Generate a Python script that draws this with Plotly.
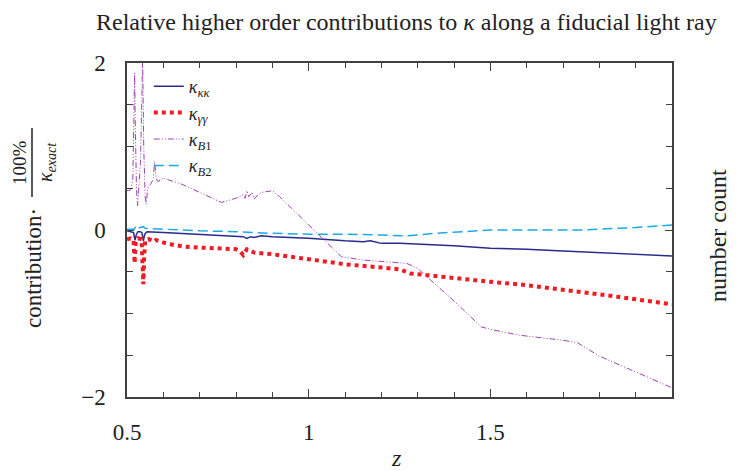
import plotly.graph_objects as go

# kappa_kk (solid navy)
z_kk = [0.5, 0.51, 0.518, 0.522, 0.526, 0.53, 0.536, 0.541, 0.545, 0.549, 0.555, 0.6, 0.7, 0.8,
        0.82, 0.83, 0.84, 0.85, 0.87, 0.9, 1.0, 1.1, 1.15, 1.17, 1.2, 1.25, 1.3, 1.4, 1.5, 1.6,
        1.7, 1.75, 1.8, 1.9, 2.0]
v_kk = [-0.01, -0.02, -0.03, -0.12, -0.05, -0.02, -0.02, -0.03, -0.13, -0.05, -0.02, -0.03, -0.05, -0.07,
        -0.08, -0.10, -0.08, -0.09, -0.07, -0.08, -0.10, -0.13, -0.14, -0.13, -0.16, -0.16, -0.17, -0.19, -0.22, -0.23,
        -0.25, -0.26, -0.27, -0.29, -0.31]

# kappa_gg (red dotted)
z_gg = [0.5, 0.51, 0.518, 0.521, 0.524, 0.53, 0.54, 0.543, 0.545, 0.547, 0.55, 0.56, 0.575, 0.58,
        0.6, 0.63, 0.66, 0.7, 0.75, 0.8, 0.81, 0.82, 0.83, 0.85, 0.9, 0.95, 1.0, 1.1, 1.2, 1.25,
        1.28, 1.3, 1.4, 1.5, 1.6, 1.7, 1.75, 1.8, 1.9, 2.0]
v_gg = [-0.11, -0.10, -0.12, -0.40, -0.14, -0.10, -0.11, -0.45, -0.65, -0.35, -0.12, -0.11, -0.14, -0.12,
        -0.15, -0.18, -0.20, -0.21, -0.22, -0.23, -0.25, -0.30, -0.23, -0.27, -0.29, -0.32, -0.35, -0.41, -0.45, -0.47,
        -0.52, -0.53, -0.57, -0.62, -0.66, -0.71, -0.74, -0.77, -0.83, -0.89]

# kappa_B1 (purple dash-dot)
z_b1 = [0.5, 0.51, 0.516, 0.519, 0.521, 0.523, 0.526, 0.529, 0.533, 0.537, 0.541, 0.543, 0.546, 0.55,
        0.553, 0.557, 0.565, 0.572, 0.576, 0.58, 0.585, 0.6, 0.65, 0.7, 0.76, 0.8, 0.82, 0.825,
        0.83, 0.835, 0.845, 0.85, 0.86, 0.87, 0.9, 0.92, 1.0, 1.05, 1.09, 1.15, 1.2, 1.27,
        1.3, 1.4, 1.475, 1.5, 1.58, 1.7, 1.74, 1.8, 1.9, 2.0]
v_b1 = [0.47, 0.48, 0.6, 1.5, 1.88, 1.2, 0.5, 0.29, 0.5, 0.8, 1.6, 2.1, 1.0, 0.4,
        0.31, 0.5, 0.55, 0.6, 0.82, 0.62, 0.58, 0.62, 0.55, 0.45, 0.33, 0.38, 0.42, 0.38,
        0.47, 0.40, 0.45, 0.37, 0.42, 0.45, 0.47, 0.40, 0.06, -0.15, -0.32, -0.36, -0.38, -0.40,
        -0.46, -0.85, -1.16, -1.19, -1.26, -1.32, -1.35, -1.51, -1.70, -1.89]

# kappa_B2 (cyan dashed)
z_b2 = [0.5, 0.52, 0.525, 0.53, 0.545, 0.55, 0.6, 0.7, 0.8, 0.9, 1.0, 1.1, 1.2, 1.27, 1.35,
        1.45, 1.5, 1.6, 1.7, 1.75, 1.8, 1.9, 2.0]
v_b2 = [0.01, 0.01, 0.05, 0.02, 0.04, 0.02, 0.01, -0.01, -0.02, -0.04, -0.05, -0.05, -0.06, -0.07, -0.04,
        -0.01, 0.0, 0.0, 0.0, 0.0, 0.01, 0.03, 0.06]

x_tickvals = [0.5, 1, 1.5]
x_ticktext = ["0.5", "1", "1.5"]
y_tickvals = [-2, 0, 2]
y_ticktext = ["\u22122", "0", "2"]

FONT = "Liberation Serif"
# page body has an 8px margin, so the figure is sized to fill the rest of the 741x471 window
OFF = 8
W, H = 741 - OFF, 471 - OFF
PL, PR, PT, PB = 127, 672, 63, 397          # plot area in window pixels
L, R, T, B = PL - OFF, 741 - PR, PT - OFF, 471 - PB
PW, PH = PR - PL, PB - PT

def px(xp):
    return (xp - PL) / PW

def py(yp):
    return (PB - yp) / PH

fig = go.Figure()
fig.add_trace(go.Scatter(x=z_kk, y=v_kk, mode="lines", name="<i>κ</i><sub><i>κκ</i></sub>",
                         line=dict(color="#2a2a8e", width=1.5)))
fig.add_trace(go.Scatter(x=z_gg, y=v_gg, mode="lines", name="<i>κ</i><sub><i>γγ</i></sub>",
                         line=dict(color="#ee1c24", width=4, dash="4px,4px")))
fig.add_trace(go.Scatter(x=z_b1, y=v_b1, mode="lines", name="<i>κ</i><sub><i>B</i>1</sub>",
                         line=dict(color="#9b44b0", width=1, dash="6px,2px,1px,2px,1px,2px")))
fig.add_trace(go.Scatter(x=z_b2, y=v_b2, mode="lines", name="<i>κ</i><sub><i>B</i>2</sub>",
                         line=dict(color="#1ca9e6", width=1.5, dash="10px,5px")))

axis_common = dict(showline=True, linecolor="#404040", linewidth=1.5, mirror="ticks",
                   ticks="inside", tickcolor="#404040", tickwidth=1.2, showgrid=False,
                   zeroline=False, tickfont=dict(family=FONT, size=23, color="#222"))

fig.update_xaxes(range=[0.5, 2.0], tickvals=x_tickvals, ticktext=x_ticktext, ticklen=8,
                 ticklabelstandoff=14,
                 minor=dict(dtick=0.1, tick0=0.5, ticks="inside", ticklen=5, tickcolor="#404040", showgrid=False),
                 **axis_common)
fig.update_yaxes(range=[-2, 2], tickvals=y_tickvals, ticktext=y_ticktext, ticklen=7,
                 ticklabelstandoff=15,
                 minor=dict(dtick=0.5, tick0=0, ticks="inside", ticklen=6, tickcolor="#404040", showgrid=False),
                 **axis_common)

annotations = [
    dict(text="Relative higher order contributions to <i>κ</i> along a fiducial light ray",
         x=px(406), y=py(22), xref="paper", yref="paper", showarrow=False,
         font=dict(family=FONT, size=24, color="#222"), xanchor="center", yanchor="middle"),
    dict(text="<i>z</i>", x=px(396), y=py(458), xref="paper", yref="paper", showarrow=False,
         font=dict(family=FONT, size=24, color="#222"), xanchor="center", yanchor="middle"),
    dict(text="number count", x=px(718), y=py(235), xref="paper", yref="paper", showarrow=False,
         textangle=-90, font=dict(family=FONT, size=24, color="#222"), xanchor="center", yanchor="middle"),
    dict(text="contribution·", x=px(33), y=py(268), xref="paper", yref="paper", showarrow=False,
         textangle=-90, font=dict(family=FONT, size=23, color="#222"), xanchor="center", yanchor="middle"),
    dict(text="100%", x=px(19), y=py(163), xref="paper", yref="paper", showarrow=False,
         textangle=-90, font=dict(family=FONT, size=19, color="#222"), xanchor="center", yanchor="middle"),
    dict(text="<i>κ</i><sub><i>exact</i></sub>", x=px(46), y=py(162), xref="paper", yref="paper",
         showarrow=False, textangle=-90, font=dict(family=FONT, size=20, color="#222"),
         xanchor="center", yanchor="middle"),
]

shapes = [dict(type="line", xref="paper", yref="paper", layer="above",
               x0=px(32), x1=px(32), y0=py(128), y1=py(197),
               line=dict(color="#222222", width=1.5))]

fig.update_layout(
    width=W, height=H,
    margin=dict(l=L, r=R, t=T, b=B),
    paper_bgcolor="white", plot_bgcolor="white",
    showlegend=True,
    legend=dict(x=0.04, y=0.985, xanchor="left", yanchor="top", bgcolor="rgba(0,0,0,0)",
                font=dict(family=FONT, size=18, color="#222"), tracegroupgap=0,
                itemwidth=30),
    annotations=annotations,
    shapes=shapes,
)

fig.write_html("out.html")
